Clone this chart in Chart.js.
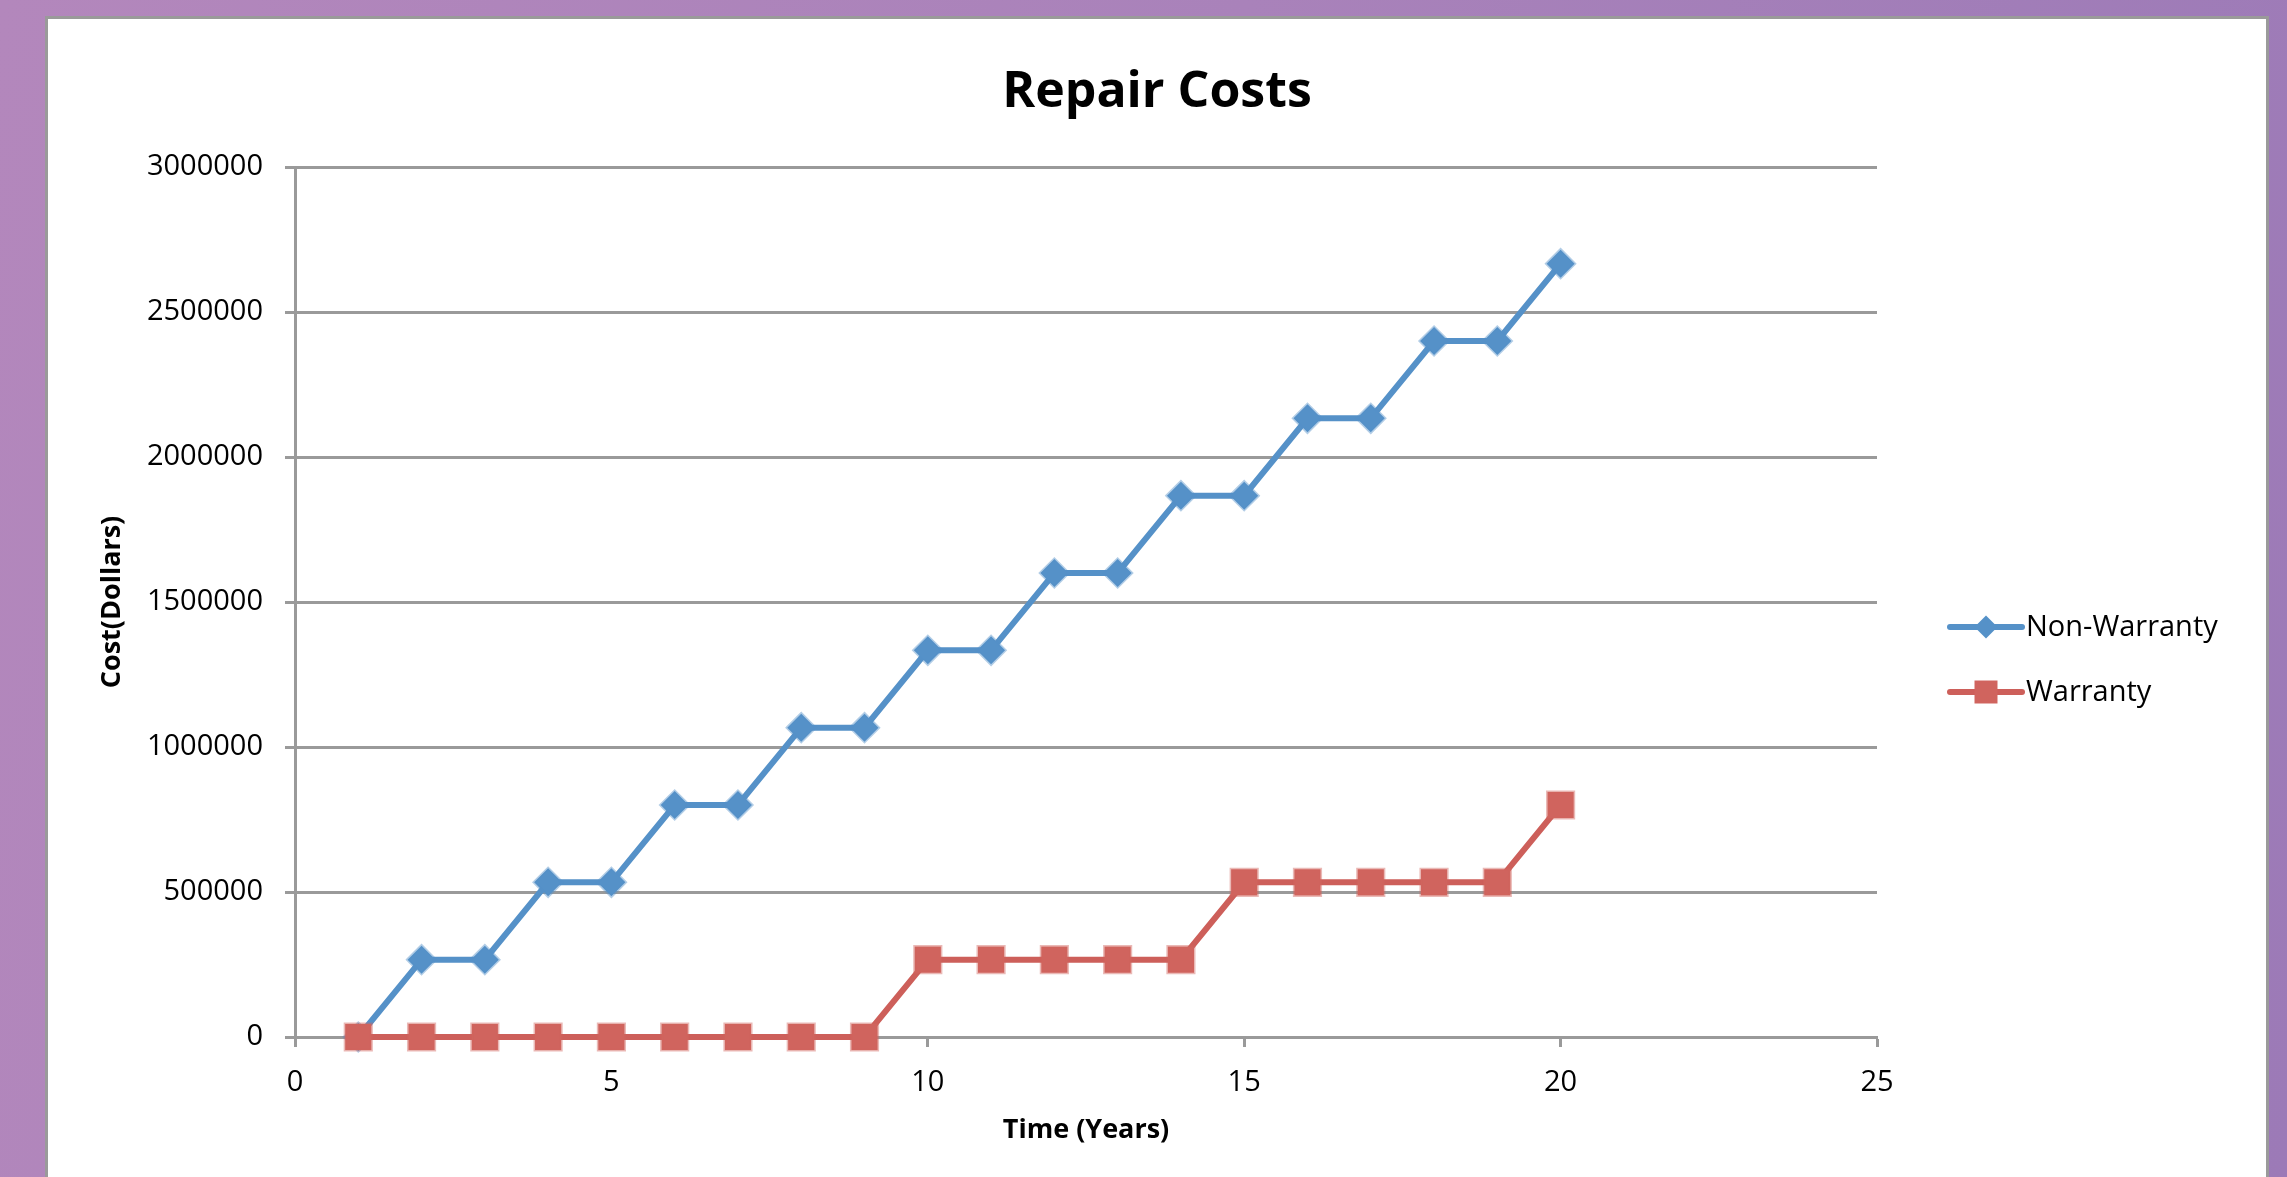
<!DOCTYPE html>
<html><head><meta charset="utf-8">
<script src="https://cdn.jsdelivr.net/npm/chart.js@4"></script>
<style>
html,body{margin:0;padding:0;width:2287px;height:1177px;overflow:hidden;}
body{background:linear-gradient(100deg,#b387bc 0%,#a982ba 50%,#9c7ab7 100%);position:relative;}
#panel{position:absolute;left:45px;top:16px;width:2218px;height:1300px;background:#fff;border:3px solid #9a9a9a;}
canvas{position:absolute;left:0;top:0;}
</style></head><body>
<div id="panel"></div>
<canvas id="c" width="2287" height="1177"></canvas>
<script>
const years = [1,2,3,4,5,6,7,8,9,10,11,12,13,14,15,16,17,18,19,20];
const nonWarranty = [0,266667,266667,533333,533333,800000,800000,1066667,1066667,1333333,1333333,1600000,1600000,1866667,1866667,2133333,2133333,2400000,2400000,2666667];
const warranty = [0,0,0,0,0,0,0,0,0,266667,266667,266667,266667,266667,533333,533333,533333,533333,533333,800000];
const xTickValues = [0,5,10,15,20,25];
const yTickValues = [0,500000,1000000,1500000,2000000,2500000,3000000];
const seriesNames = ['Non-Warranty','Warranty'];

const BLUE = '#5591c8';
const RED = '#cd5f5a';
const GRID = '#9a9a9a';
const FONT = 'Open Sans';

const sideLegend = {
  id: 'sideLegend',
  afterLayout(chart) {
    const t = chart.titleBlock;
    if (t) { t.left = 45; t.right = 2269; }
  },
  afterDraw(chart) {
    const ctx = chart.ctx;
    const a = chart.chartArea;
    const x0 = a.right + 73, x1 = a.right + 145, tx = a.right + 149;
    const rows = [a.top + 460, a.top + 525];
    [0, 1].forEach((i, r) => {
      const ds = chart.data.datasets[i];
      const y = rows[r];
      ctx.save();
      ctx.strokeStyle = ds.borderColor;
      ctx.lineWidth = 6;
      ctx.lineCap = 'round';
      ctx.beginPath(); ctx.moveTo(x0, y); ctx.lineTo(x1, y); ctx.stroke();
      const cx = (x0 + x1) / 2;
      ctx.fillStyle = ds.pointBackgroundColor;
      ctx.beginPath();
      if (ds.pointStyle === 'rectRot') {
        const h = 11.5;
        ctx.moveTo(cx, y - h); ctx.lineTo(cx + h, y); ctx.lineTo(cx, y + h); ctx.lineTo(cx - h, y); ctx.closePath();
      } else {
        const h = 11.5;
        ctx.rect(cx - h, y - h, 2 * h, 2 * h);
      }
      ctx.fill();
      ctx.fillStyle = '#000';
      ctx.font = '29px "' + FONT + '"';
      ctx.textBaseline = 'middle';
      ctx.textAlign = 'left';
      ctx.fillText(ds.label, tx, y + 1);
      ctx.restore();
    });
  }
};

new Chart(document.getElementById('c'), {
  type: 'line',
  data: {
    datasets: [
      {
        label: seriesNames[0],
        data: years.map((x, i) => ({x: x, y: nonWarranty[i]})),
        borderColor: BLUE, backgroundColor: BLUE,
        pointBackgroundColor: BLUE, pointBorderColor: 'rgba(85,145,200,0.45)',
        borderWidth: 6, pointStyle: 'rectRot', pointRadius: 14, pointBorderWidth: 3,
        tension: 0, clip: false, order: 2
      },
      {
        label: seriesNames[1],
        data: years.map((x, i) => ({x: x, y: warranty[i]})),
        borderColor: RED, backgroundColor: RED,
        pointBackgroundColor: '#d0645e', pointBorderColor: 'rgba(208,100,94,0.45)',
        borderWidth: 6, pointStyle: 'rect', pointRadius: 18.5, pointBorderWidth: 3,
        tension: 0, clip: false, order: 1
      }
    ]
  },
  options: {
    responsive: false, animation: false, devicePixelRatio: 1,
    layout: {padding: {left: 80, right: 410, top: 0, bottom: 20}},
    plugins: {
      legend: {display: false},
      tooltip: {enabled: false},
      title: {
        display: true, text: 'Repair Costs', color: '#000',
        font: {family: FONT, size: 50, weight: 'bold', lineHeight: 1.2},
        padding: {top: 63, bottom: 44}
      }
    },
    scales: {
      x: {
        type: 'linear', min: 0, max: 25,
        afterBuildTicks: s => { s.ticks = xTickValues.map(v => ({value: v})); },
        afterFit: s => { s.height = 120; },
        grid: {drawOnChartArea: false, drawTicks: true, tickLength: 10, tickWidth: 3, tickColor: GRID, color: GRID},
        border: {display: true, color: GRID, width: 3},
        ticks: {padding: 18, color: '#000', font: {family: FONT, size: 29}, maxRotation: 0, autoSkip: false, callback: v => String(v)},
        title: {display: true, text: 'Time (Years)', color: '#000', font: {family: FONT, size: 27, weight: 'bold', lineHeight: 1.2}, padding: {top: 0, bottom: 10}}
      },
      y: {
        type: 'linear', min: 0, max: 3000000,
        afterBuildTicks: s => { s.ticks = yTickValues.map(v => ({value: v})); },
        afterFit: s => { s.width = 215; },
        grid: {color: GRID, lineWidth: 3, drawTicks: true, tickLength: 10, tickWidth: 3, tickColor: GRID},
        border: {display: true, color: GRID, width: 3},
        ticks: {padding: 22, color: '#000', font: {family: FONT, size: 29}, autoSkip: false, callback: v => String(v)},
        title: {display: true, text: 'Cost(Dollars)', color: '#000', font: {family: FONT, size: 27, weight: 'bold', lineHeight: 1.2}, padding: {top: 16, bottom: 0}}
      }
    }
  },
  plugins: [sideLegend]
});
</script>
</body></html>
